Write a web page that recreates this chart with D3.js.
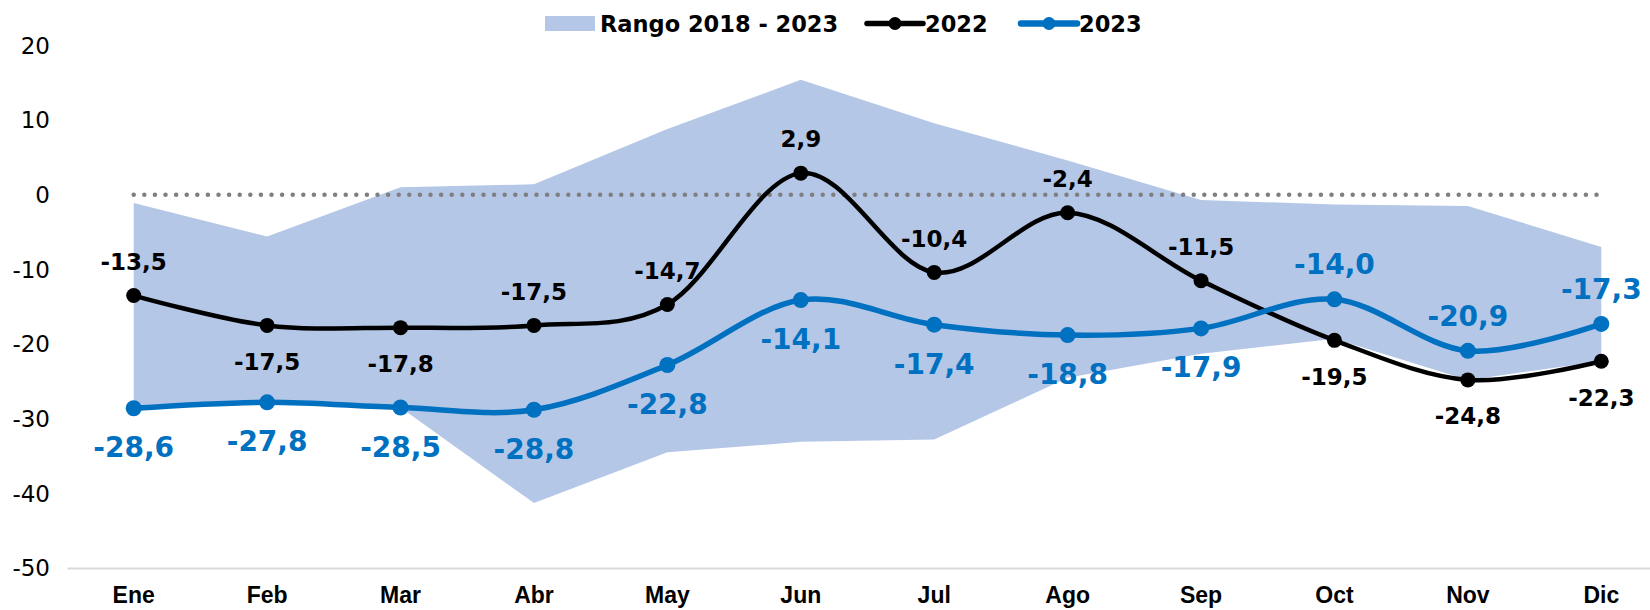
<!DOCTYPE html>
<html>
<head>
<meta charset="utf-8">
<script src="https://cdn.jsdelivr.net/npm/d3@7"></script>
<style>
  body { margin: 0; background: #fff; }
  svg { display: block; font-family: 'DejaVu Sans', sans-serif; }
</style>
</head>
<body>
<div id="chart-mount"></div>
<script>
var WIDTH = 1650;
var HEIGHT = 610;

var MONTHS = ['Ene', 'Feb', 'Mar', 'Abr', 'May', 'Jun', 'Jul', 'Ago', 'Sep', 'Oct', 'Nov', 'Dic'];
var Y_TICKS = [20, 10, 0, -10, -20, -30, -40, -50];

var RANGO_MAX = [-1.1, -5.6, 1.0, 1.4, 8.8, 15.4, 9.6, 4.6, -0.7, -1.3, -1.5, -7.0];
var RANGO_MIN = [-28.6, -27.8, -28.5, -41.3, -34.5, -33.1, -32.8, -24.5, -21.3, -19.3, -24.8, -22.3];
var SERIES_2022 = [-13.5, -17.5, -17.8, -17.5, -14.7, 2.9, -10.4, -2.4, -11.5, -19.5, -24.8, -22.3];
var SERIES_2023 = [-28.6, -27.8, -28.5, -28.8, -22.8, -14.1, -17.4, -18.8, -17.9, -14.0, -20.9, -17.3];

// which side of the point each data label sits on
var SIDE_2022 = ['up', 'down', 'down', 'up', 'up', 'up', 'up', 'up', 'up', 'down', 'down', 'down'];
var SIDE_2023 = ['down', 'down', 'down', 'down', 'down', 'down', 'down', 'down', 'down', 'up', 'up', 'up'];

var BLUE = '#0070C0';
var AREA = '#B4C7E7';

var $svg = d3.select('#chart-mount').append('svg')
  .attr('width', WIDTH)
  .attr('height', HEIGHT);

var x = d3.scaleBand().domain(MONTHS).range([67, 1668]).padding(0);
var y = d3.scaleLinear().domain([-50, 20]).range([568, 45.5]);

function cx (d, i) { return x(MONTHS[i]) + x.bandwidth() / 2; }
function fmt (v) { return d3.format('.1f')(v).replace('.', ',').replace('−', '-'); }

// range band
var area = d3.area()
  .x(function (d, i) { return cx(d, i); })
  .y0(function (d, i) { return y(RANGO_MIN[i]); })
  .y1(function (d) { return y(d); });

$svg.append('path')
  .datum(RANGO_MAX)
  .attr('d', area)
  .attr('fill', AREA);

// zero reference
$svg.append('line')
  .attr('x1', cx(null, 0))
  .attr('x2', cx(null, MONTHS.length - 1))
  .attr('y1', y(0))
  .attr('y2', y(0))
  .attr('stroke', '#7F7F7F')
  .attr('stroke-width', 4.5)
  .attr('stroke-linecap', 'round')
  .attr('stroke-dasharray', '0 10.6');

// y axis labels
$svg.append('g')
  .selectAll('text')
  .data(Y_TICKS)
  .enter()
    .append('text')
    .attr('x', 50)
    .attr('y', function (d) { return y(d); })
    .attr('dy', '0.36em')
    .attr('text-anchor', 'end')
    .attr('font-size', 23)
    .attr('fill', '#000')
    .text(function (d) { return d; });

// x axis
var xAxis = d3.axisBottom(x).tickSize(0).tickPadding(19);
var $xAxis = $svg.append('g')
  .attr('transform', 'translate(0,' + y(-50) + ')')
  .call(xAxis);
$xAxis.select('.domain')
  .attr('stroke', '#D9D9D9')
  .attr('stroke-width', 2);
$xAxis.selectAll('text')
  .attr('font-family', null)
  .attr('font-size', 23)
  .attr('font-weight', 'bold')
  .attr('fill', '#000');

function drawSeries (values, color, lineWidth, radius, sides, labelSize, upOff, downOff) {
  var line = d3.line()
    .x(function (d, i) { return cx(d, i); })
    .y(function (d) { return y(d); })
    .curve(d3.curveCardinal.tension(0));

  var $g = $svg.append('g');
  $g.append('path')
    .datum(values)
    .attr('d', line)
    .attr('fill', 'none')
    .attr('stroke', color)
    .attr('stroke-width', lineWidth);

  $g.selectAll('circle')
    .data(values)
    .enter()
      .append('circle')
      .attr('cx', function (d, i) { return cx(d, i); })
      .attr('cy', function (d) { return y(d); })
      .attr('r', radius)
      .attr('fill', color);

  $g.selectAll('text')
    .data(values)
    .enter()
      .append('text')
      .attr('x', function (d, i) { return cx(d, i); })
      .attr('y', function (d, i) { return y(d) + (sides[i] === 'up' ? -upOff : downOff); })
      .attr('dy', '0.36em')
      .attr('text-anchor', 'middle')
      .attr('font-size', labelSize)
      .attr('font-weight', 'bold')
      .attr('fill', color)
      .text(fmt);
}

drawSeries(SERIES_2022, '#000', 4.5, 7.5, SIDE_2022, 23, 34, 36);
drawSeries(SERIES_2023, BLUE, 5.5, 8, SIDE_2023, 28, 35, 39);

// legend
var $legend = $svg.append('g').attr('font-size', 22.5).attr('font-weight', 'bold');
$legend.append('rect')
  .attr('x', 545).attr('y', 16)
  .attr('width', 50).attr('height', 15)
  .attr('fill', AREA);
$legend.append('text')
  .attr('x', 600).attr('y', 23.5).attr('dy', '0.36em')
  .text('Rango 2018 - 2023');

[[867, '#000', 4.5, '2022'], [1021, BLUE, 5.5, '2023']].forEach(function (item) {
  $legend.append('line')
    .attr('x1', item[0]).attr('x2', item[0] + 56)
    .attr('y1', 23.5).attr('y2', 23.5)
    .attr('stroke', item[1])
    .attr('stroke-width', item[2] + 1)
    .attr('stroke-linecap', 'round');
  $legend.append('circle')
    .attr('cx', item[0] + 28).attr('cy', 23.5)
    .attr('r', 6.5)
    .attr('fill', item[1]);
  $legend.append('text')
    .attr('x', item[0] + 58).attr('y', 23.5).attr('dy', '0.36em')
    .text(item[3]);
});
</script>
</body>
</html>
